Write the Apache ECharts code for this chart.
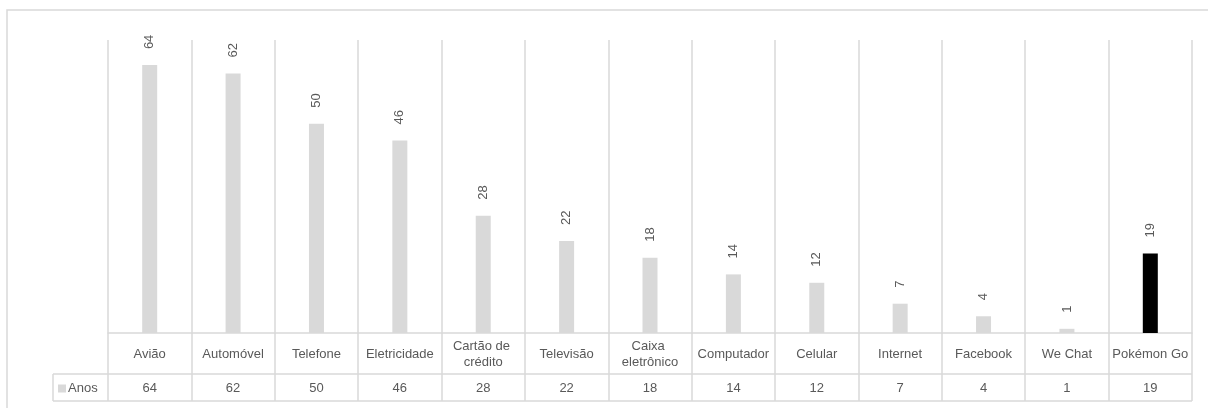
<!DOCTYPE html>
<html>
<head>
<meta charset="utf-8">
<script src="https://cdn.jsdelivr.net/npm/echarts@6/dist/echarts.min.js"></script>
<style>html,body{margin:0;padding:0;background:#fff}#c{width:1208px;height:408px}</style>
</head>
<body>
<div id="c"></div>
<script>
const categories = ['Avião','Automóvel','Telefone','Eletricidade','Cartão de crédito','Televisão','Caixa eletrônico','Computador','Celular','Internet','Facebook','We Chat','Pokémon Go'];
const anos = [64,62,50,46,28,22,18,14,12,7,4,1,19];
const seriesName = 'Anos';
const highlight = 'Pokémon Go';

const GREY = '#d9d9d9', TXT = '#595959', FONT = 'Liberation Sans', FS = 13;
const chart = echarts.init(document.getElementById('c'));
const gridL = 108, gridR = 16, gridT = 40, gridB = 75;
const W = 1208, H = 408;
const baseY = H - gridB;
const row1 = baseY + 41, row2 = baseY + 68;

chart.setOption({
  animation: false,
  textStyle: {fontFamily: FONT},
  grid: {left: gridL, right: gridR, top: gridT, bottom: gridB},
  legend: {
    data: [seriesName], left: 58, top: row1 + 8, padding: 0, icon: 'rect', itemWidth: 8, itemHeight: 8, itemGap: 3,
    textStyle: {color: TXT, fontSize: FS, fontFamily: FONT, padding: [0,0,0,-3]}
  },
  xAxis: [{
    type: 'category', data: categories, position: 'bottom',
    axisLine: {show: true, lineStyle: {color: GREY, width: 1.5}},
    axisTick: {show: true, length: 68, lineStyle: {color: GREY, width: 1.5}},
    splitLine: {show: true, lineStyle: {color: GREY, width: 1.5}},
    axisLabel: {color: TXT, fontSize: FS, fontFamily: FONT, margin: 21, verticalAlign: 'middle', width: 84, overflow: 'break', lineHeight: 16, interval: 0}
  }, {
    type: 'category', data: anos.map(String), position: 'bottom', offset: 41,
    axisLine: {show: false}, axisTick: {show: false}, splitLine: {show: false},
    axisLabel: {color: TXT, fontSize: FS, fontFamily: FONT, margin: 14, verticalAlign: 'middle', interval: 0}
  }],
  yAxis: {type: 'value', min: 0, max: 70, show: false, splitLine: {show: false}},
  series: [{
    name: seriesName, type: 'bar', barWidth: 15, color: GREY,
    data: anos.map((v, i) => categories[i] === highlight ? {value: v, itemStyle: {color: '#000'}} : v),
    label: {show: true, position: 'top', rotate: 90, distance: 16, align: 'left', verticalAlign: 'middle',
      color: TXT, fontSize: FS, fontFamily: FONT}
  }],
  graphic: [
    {type: 'rect', shape: {x: 7, y: 10, width: 1300, height: 500}, style: {fill: 'none', stroke: GREY, lineWidth: 1.5}, silent: true},
    {type: 'line', shape: {x1: 53, y1: row1, x2: W - gridR, y2: row1}, style: {stroke: GREY, lineWidth: 1.5}},
    {type: 'line', shape: {x1: 53, y1: row2, x2: W - gridR, y2: row2}, style: {stroke: GREY, lineWidth: 1.5}},
    {type: 'line', shape: {x1: 53, y1: row1, x2: 53, y2: row2}, style: {stroke: GREY, lineWidth: 1.5}}
  ]
});
</script>
</body>
</html>
